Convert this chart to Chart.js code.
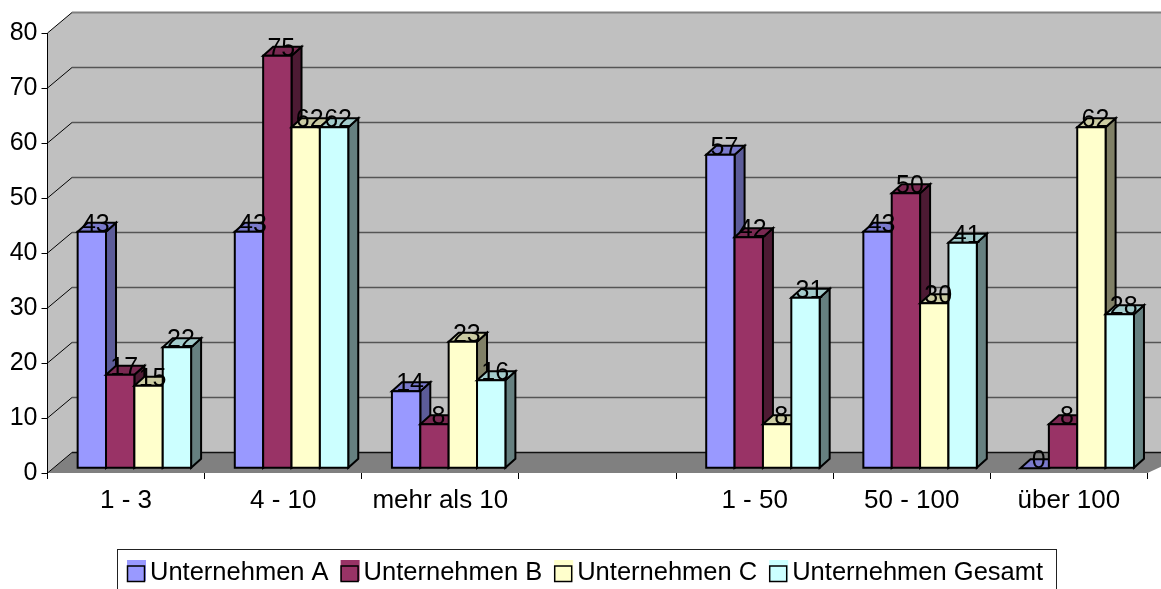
<!DOCTYPE html>
<html>
<head>
<meta charset="utf-8">
<style>
  html, body { margin: 0; padding: 0; background: #fff; }
  canvas { display: block; }
</style>
<script src="https://cdn.jsdelivr.net/npm/chart.js@4"></script>
</head>
<body>
<canvas id="barChart" width="1161" height="589"></canvas>
<script>
const categories = ['1 - 3', '4 - 10', 'mehr als 10', '', '1 - 50', '50 - 100', 'über 100'];
const seriesNames = ['Unternehmen A', 'Unternehmen B', 'Unternehmen C', 'Unternehmen Gesamt'];
const seriesA = [43, 43, 14, null, 57, 43, 0];
const seriesB = [17, 75, 8, null, 42, 50, 8];
const seriesC = [15, 62, 23, null, 8, 30, 62];
const seriesD = [22, 62, 16, null, 31, 41, 28];
const colors = ['#9999ff', '#993366', '#ffffcc', '#ccffff'];
const sideColors = ['#5c5c99', '#4d1a33', '#808066', '#668080'];
const topColors = ['#7a7acc', '#7a2952', '#cccca3', '#a3cccc'];

const fontFamily = '"Liberation Sans", Arial, sans-serif';
const fontSize = 25;
const legendFontSize = 25.5;
const legendPadding = 12;

// room depth and bar depth of the fake 3D look
const wallX = 24.5, wallY = 20.5;
const barShiftX = 8.3, barShiftY = 4.8;
const depthX = 10, depthY = 9;

function poly(ctx, pts, fill, stroke, lw) {
    ctx.beginPath();
    pts.forEach((p, i) => i ? ctx.lineTo(p[0], p[1]) : ctx.moveTo(p[0], p[1]));
    ctx.closePath();
    if (fill) { ctx.fillStyle = fill; ctx.fill(); }
    if (stroke) { ctx.strokeStyle = stroke; ctx.lineWidth = lw; ctx.stroke(); }
}

const legendBox = 23 - legendFontSize / 2;

const room3d = {
    id: 'room3d',
    afterLayout(chart) {
        const legend = chart.legend;
        legend.left = 127 - legendPadding;
        legend.right = 1061;
        legend.width = legend.right - legend.left;
        legend.top = 548;
        legend.bottom = 589;
        legend.height = 41;
    },
    beforeDraw(chart) {
        const ctx = chart.ctx, y = chart.scales.y, a = chart.chartArea;
        const top = y.getPixelForValue(80), bottom = y.getPixelForValue(0);
        const right = chart.width + 30;
        ctx.save();
        poly(ctx, [[a.left, top], [a.left + wallX, top - wallY], [right, top - wallY], [right, bottom - wallY], [a.left + wallX, bottom - wallY], [a.left, bottom]], '#c0c0c0');
        poly(ctx, [[a.left, bottom], [a.left + wallX, bottom - wallY], [right, bottom - wallY], [a.right, bottom]], '#808080');
        y.ticks.forEach(t => {
            const py = y.getPixelForValue(t.value);
            ctx.strokeStyle = '#000';
            ctx.lineWidth = 1;
            ctx.beginPath();
            ctx.moveTo(a.left, py);
            ctx.lineTo(a.left + wallX, py - wallY);
            ctx.stroke();
            ctx.strokeStyle = t.value === 80 ? '#808080' : (t.value === 0 ? '#111' : '#555');
            ctx.lineWidth = t.value === 80 ? 2 : 1.5;
            ctx.beginPath();
            ctx.moveTo(a.left + wallX, py - wallY);
            ctx.lineTo(right, py - wallY);
            ctx.stroke();
        });
        ctx.restore();
    },
    beforeDatasetsDraw(chart) {
        const ctx = chart.ctx;
        ctx.save();
        ctx.lineJoin = 'miter';
        chart.data.datasets.forEach((ds, i) => {
            chart.getDatasetMeta(i).data.forEach((bar, j) => {
                if (ds.data[j] === null) return;
                const p = bar.getProps(['x', 'y', 'base', 'width']);
                const l = p.x - p.width / 2 + barShiftX, r = l + p.width;
                const t = p.y - barShiftY, b = p.base - barShiftY;
                const lw = 2;
                poly(ctx, [[r, t], [r + depthX, t - depthY], [r + depthX, b - depthY], [r, b]], sideColors[i], '#000', lw);
                poly(ctx, [[l, t], [l + depthX, t - depthY], [r + depthX, t - depthY], [r, t]], topColors[i], '#000', lw);
                if (b - t > 0) poly(ctx, [[l, t], [r, t], [r, b], [l, b]], colors[i], '#000', lw);
            });
        });
        ctx.fillStyle = '#000';
        ctx.font = fontSize + 'px ' + fontFamily;
        ctx.textAlign = 'center';
        ctx.textBaseline = 'alphabetic';
        chart.data.datasets.forEach((ds, i) => {
            chart.getDatasetMeta(i).data.forEach((bar, j) => {
                if (ds.data[j] === null) return;
                const p = bar.getProps(['x', 'y']);
                ctx.fillText(String(ds.data[j]), p.x + barShiftX + 4, p.y - barShiftY);
            });
        });
        ctx.restore();
        return false;
    },
    afterDraw(chart) {
        const ctx = chart.ctx, legend = chart.legend;
        ctx.save();
        ctx.strokeStyle = '#222';
        ctx.lineWidth = 1;
        ctx.strokeRect(117.5, 549.5, 939, 45);
        ctx.font = legendFontSize + 'px ' + fontFamily;
        let x = legend.left + legendPadding;
        seriesNames.forEach((name, i) => {
            ctx.fillStyle = colors[i];
            ctx.fillRect(x, 560, 19, 21);
            ctx.strokeStyle = '#000';
            ctx.lineWidth = 1.5;
            ctx.strokeRect(x + 0.5, 566, 17, 15.5);
            x += legendBox + legendFontSize / 2 + ctx.measureText(name).width + legendPadding;
        });
        ctx.restore();
    }
};

const seriesValues = [seriesA, seriesB, seriesC, seriesD];

const config = {
    type: 'bar',
    data: {
        labels: categories,
        datasets: seriesNames.map((name, i) => ({
            label: name,
            data: seriesValues[i],
            backgroundColor: colors[i],
            borderColor: '#000',
            borderWidth: 0,
            categoryPercentage: 0.722,
            barPercentage: 1
        }))
    },
    options: {
        responsive: false,
        animation: false,
        devicePixelRatio: 1,
        layout: { padding: { top: 33, right: 13.5, left: 0, bottom: 0 } },
        scales: {
            x: {
                afterFit(scale) { scale.height = 68.5; },
                border: { display: false },
                grid: { offset: true, drawOnChartArea: false, color: '#000', tickLength: 6 },
                ticks: {
                    color: '#000',
                    maxRotation: 0,
                    autoSkip: false,
                    padding: 6,
                    font: { family: fontFamily, size: 26 }
                }
            },
            y: {
                min: 0,
                max: 80,
                afterFit(scale) { scale.width = 47.5; },
                border: { display: true, color: '#000', width: 1 },
                grid: { drawOnChartArea: false, color: '#000', tickLength: 6 },
                ticks: {
                    stepSize: 10,
                    color: '#000',
                    padding: 4,
                    font: { family: fontFamily, size: fontSize }
                }
            }
        },
        plugins: {
            tooltip: { enabled: false },
            legend: {
                position: 'bottom',
                align: 'start',
                labels: {
                    color: '#000',
                    boxWidth: legendBox,
                    boxHeight: 0,
                    padding: legendPadding,
                    font: { family: fontFamily, size: legendFontSize },
                    generateLabels() {
                        return seriesNames.map((name, i) => ({
                            text: name,
                            fillStyle: 'rgba(0,0,0,0)',
                            strokeStyle: 'rgba(0,0,0,0)',
                            lineWidth: 0,
                            datasetIndex: i
                        }));
                    }
                }
            }
        }
    },
    plugins: [room3d]
};

var ctx = document.getElementById('barChart').getContext('2d');
var barChart = new Chart(ctx, config);
</script>
</body>
</html>
